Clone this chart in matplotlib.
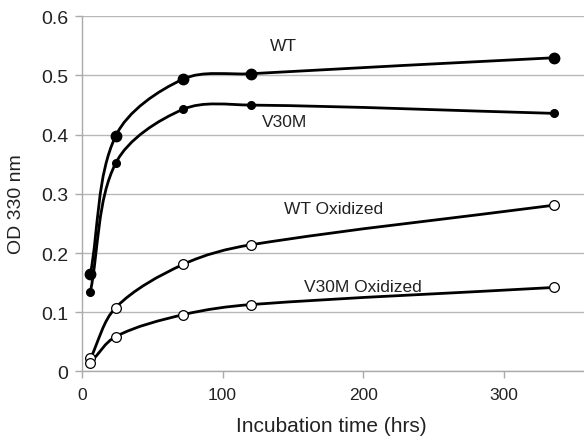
import numpy as np
import matplotlib
matplotlib.use("Agg")
import matplotlib.pyplot as plt
from matplotlib.path import Path
from matplotlib.patches import PathPatch

plt.rcParams['font.family'] = ['Liberation Sans', 'DejaVu Sans']

hours = [6, 24, 72, 120, 336]
wt = [0.165, 0.398, 0.494, 0.503, 0.530]
v30m = [0.135, 0.352, 0.443, 0.450, 0.436]
wt_ox = [0.022, 0.108, 0.181, 0.214, 0.281]
v30m_ox = [0.015, 0.059, 0.096, 0.113, 0.142]

series_labels = ["WT", "V30M", "WT Oxidized", "V30M Oxidized"]
label_pos = [(143, 0.550), (144, 0.423), (179, 0.275), (200, 0.144)]

XMAX = 357
YMAX = 0.6
# rough pixel size of one data unit, used only to shape the curve handles
SX, SY = 1.405, 590.0


def smooth_path(xs, ys):
    # smoothed line like excel: cubic bezier through the points,
    # handle length scaled by the neighbouring segment lengths
    p = np.column_stack([xs, ys]).astype(float)
    q = p * [SX, SY]
    n = len(p)
    seg = [np.hypot(*(q[i + 1] - q[i])) for i in range(n - 1)]
    verts = [p[0]]
    codes = [Path.MOVETO]
    for i in range(n - 1):
        prev = p[i - 1] if i > 0 else p[i]
        nxt = p[i + 2] if i + 2 < n else p[i + 1]
        d_prev = seg[i - 1] if i > 0 else 0.0
        d_next = seg[i + 1] if i + 1 < n - 1 else 0.0
        c1 = p[i] + (p[i + 1] - prev) * seg[i] / (d_prev + seg[i]) / 3.0
        c2 = p[i + 1] - (nxt - p[i]) * seg[i] / (d_next + seg[i]) / 3.0
        verts += [c1, c2, p[i + 1]]
        codes += [Path.CURVE4] * 3
    return Path(verts, codes)


fig = plt.figure(figsize=(5.84, 4.39), dpi=100)
ax = fig.add_axes([0.1404, 0.1515, 0.8596, 0.8091])

styles = [
    (wt, dict(marker='o', ms=7.5, mfc='black', mec='black')),
    (v30m, dict(marker='o', ms=5.5, mfc='black', mec='black')),
    (wt_ox, dict(marker='o', ms=7, mfc='white', mec='black', mew=0.9)),
    (v30m_ox, dict(marker='o', ms=7, mfc='white', mec='black', mew=0.9)),
]
for vals, mstyle in styles:
    patch = PathPatch(smooth_path(hours, vals), fill=False, lw=2.0,
                      edgecolor='black', zorder=3, capstyle='round')
    ax.add_patch(patch)
    ax.plot(hours, vals, linestyle='none', zorder=4, **mstyle)

for lab, (lx, ly) in zip(series_labels, label_pos):
    ax.text(lx, ly, lab, ha='center', va='center', fontsize=12.5, color='#222222')

ax.set_xlim(0, XMAX)
ax.set_ylim(0, YMAX)
ax.set_xticks([0, 100, 200, 300])
ax.set_yticks([0, 0.1, 0.2, 0.3, 0.4, 0.5, 0.6])
ax.set_yticklabels(["0", "0.1", "0.2", "0.3", "0.4", "0.5", "0.6"])
ax.tick_params(axis='y', labelsize=14, colors='#aaaaaa', labelcolor='#222222',
               length=5, width=1, pad=5)
ax.tick_params(axis='x', labelsize=12.5, colors='#aaaaaa', labelcolor='#222222',
               length=5, width=1, pad=6)
ax.grid(axis='y', color='#b8b8b8', lw=1)
ax.set_axisbelow(True)
for side in ['top', 'right']:
    ax.spines[side].set_visible(False)
for side in ['left', 'bottom']:
    ax.spines[side].set_color('#aaaaaa')
    ax.spines[side].set_linewidth(1)

fig.text(331 / 584, 1 - 427 / 439, 'Incubation time (hrs)', ha='center', va='center',
         fontsize=15, color='#222222')
fig.text(17 / 584, 1 - 204 / 439, 'OD 330 nm', ha='center', va='center',
         rotation=90, fontsize=14, color='#222222')

fig.savefig('out.png', dpi=100)
